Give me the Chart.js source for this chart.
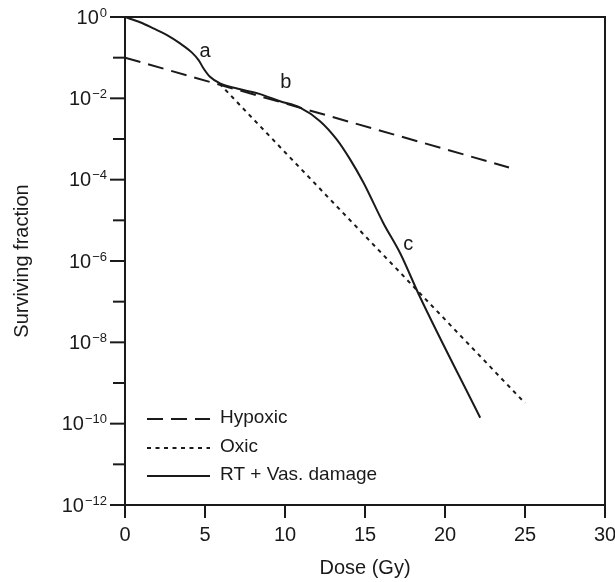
<!DOCTYPE html>
<html>
<head>
<meta charset="utf-8">
<script src="https://cdn.jsdelivr.net/npm/chart.js@4.4.1/dist/chart.umd.min.js"></script>
<style>
  html, body { margin: 0; padding: 0; background: #fff; }
  #wrap { width: 615px; height: 582px; position: relative; }
</style>
</head>
<body>
<div id="wrap"><canvas id="survivalChart"></canvas></div>
<script>
// Cell survival curves
const hypoxicDose = [0, 24];
const hypoxicSF = [1e-1, 2.0e-4];

const oxicDose = [5.9, 25];
const oxicSF = [2.3e-2, 3.2e-10];

const rtDose = [0, 0.94, 1.77, 2.6, 3.44, 4.17, 4.6, 4.9, 5.31, 5.94, 7.0, 8.4, 9.69, 10.94,
  12.19, 13.23, 14.06, 14.9, 16.15, 17.2, 18.4, 22.2];
const rtSF = [1, 0.741, 0.525, 0.363, 0.224, 0.135, 0.0871, 0.055, 0.0339, 0.0234, 0.0174, 0.0129,
  0.0085, 0.0059, 0.00275, 9.8e-4, 3.2e-4, 8.5e-5, 8.5e-6, 1.55e-6, 1.4e-7, 1.4e-10];

const seriesLabels = ['Hypoxic', 'Oxic', 'RT + Vas. damage'];
const doseTicks = [0, 5, 10, 15, 20, 25, 30];
const decadeExponents = [0, -1, -2, -3, -4, -5, -6, -7, -8, -9, -10, -11, -12];

// curve annotations (dose, surviving fraction)
const notes = [
  { text: 'a', dose: 5.0, sf: 1.4e-1 },
  { text: 'b', dose: 10.05, sf: 2.4e-2 },
  { text: 'c', dose: 17.7, sf: 2.6e-6 }
];

const INK = '#1a1a1a';
const FONT = '"Liberation Sans", Arial, Helvetica, sans-serif';

function toPoints(xs, ys) {
  return xs.map((x, i) => ({ x, y: ys[i] }));
}

// Frame, y ticks with superscript labels, legend and letters
const decorPlugin = {
  id: 'decor',
  afterDraw(chart) {
    const { ctx, chartArea: area, scales: { x, y } } = chart;
    ctx.save();
    ctx.strokeStyle = INK;
    ctx.fillStyle = INK;
    ctx.lineWidth = 2;

    // top + right frame
    ctx.beginPath();
    ctx.moveTo(area.left, area.top);
    ctx.lineTo(area.right, area.top);
    ctx.lineTo(area.right, area.bottom);
    ctx.stroke();

    // y ticks
    decadeExponents.forEach(e => {
      const py = y.getPixelForValue(Math.pow(10, e));
      const major = e % 2 === 0;
      ctx.beginPath();
      ctx.moveTo(area.left - (major ? 15 : 12), py);
      ctx.lineTo(area.left, py);
      ctx.stroke();
      if (!major) return;
      const exp = e === 0 ? '0' : '\u2212' + Math.abs(e);
      const right = area.left - 18;
      ctx.font = `13px ${FONT}`;
      ctx.textAlign = 'right';
      ctx.textBaseline = 'middle';
      const ew = ctx.measureText(exp).width;
      ctx.fillText(exp, right, py - 4);
      ctx.font = `20px ${FONT}`;
      ctx.fillText('10', right - ew - 1, py + 1);
    });

    // legend
    ctx.font = `19px ${FONT}`;
    ctx.textAlign = 'left';
    ctx.textBaseline = 'middle';
    const rows = [419, 448, 476];
    chart.data.datasets.forEach((ds, i) => {
      const ry = rows[i];
      ctx.setLineDash(ds.borderDash || []);
      ctx.lineWidth = ds.borderWidth;
      ctx.beginPath();
      ctx.moveTo(147, ry);
      ctx.lineTo(210, ry);
      ctx.stroke();
      ctx.setLineDash([]);
      ctx.fillText(ds.label, 220, ry - 1);
    });

    // curve letters
    ctx.font = `20px ${FONT}`;
    ctx.textAlign = 'center';
    notes.forEach(n => {
      ctx.fillText(n.text, x.getPixelForValue(n.dose), y.getPixelForValue(n.sf));
    });
    ctx.restore();
  }
};

new Chart(document.getElementById('survivalChart'), {
  type: 'line',
  data: {
    datasets: [
      {
        label: seriesLabels[0],
        data: toPoints(hypoxicDose, hypoxicSF),
        borderColor: INK,
        borderWidth: 2,
        borderDash: [16, 8],
        pointRadius: 0,
        order: 2
      },
      {
        label: seriesLabels[1],
        data: toPoints(oxicDose, oxicSF),
        borderColor: INK,
        borderWidth: 2,
        borderDash: [4, 4.5],
        pointRadius: 0,
        order: 1
      },
      {
        label: seriesLabels[2],
        data: toPoints(rtDose, rtSF),
        borderColor: INK,
        borderWidth: 2,
        pointRadius: 0,
        cubicInterpolationMode: 'monotone',
        order: 0
      }
    ]
  },
  options: {
    responsive: true,
    maintainAspectRatio: false,
    animation: false,
    layout: { padding: { left: 0, right: 10, top: 17, bottom: 0 } },
    plugins: {
      legend: { display: false },
      tooltip: { enabled: false }
    },
    scales: {
      x: {
        type: 'linear',
        min: 0,
        max: 30,
        afterBuildTicks: s => { s.ticks = doseTicks.map(v => ({ value: v })); },
        afterFit: s => { s.height = 77; s.paddingRight = 0; s.paddingLeft = 0; },
        border: { display: true, color: INK, width: 2 },
        grid: { drawOnChartArea: false, drawTicks: true, tickLength: 13, color: INK, lineWidth: 2 },
        ticks: { color: INK, font: { family: FONT, size: 20 }, padding: 5, maxRotation: 0 },
        title: { display: true, text: 'Dose (Gy)', color: INK, font: { family: FONT, size: 20 }, padding: { top: 0, bottom: 2 } }
      },
      y: {
        type: 'logarithmic',
        min: 1e-12,
        max: 1,
        afterBuildTicks: s => { s.ticks = decadeExponents.map(e => ({ value: Math.pow(10, e) })); },
        afterFit: s => { s.width = 125; s.paddingTop = 0; s.paddingBottom = 0; },
        border: { display: true, color: INK, width: 2 },
        grid: { display: false },
        ticks: { callback: () => '' },
        title: { display: true, text: 'Surviving fraction', color: INK, font: { family: FONT, size: 20 }, padding: { top: 10, bottom: 0 } }
      }
    }
  },
  plugins: [decorPlugin]
});
</script>
</body>
</html>
